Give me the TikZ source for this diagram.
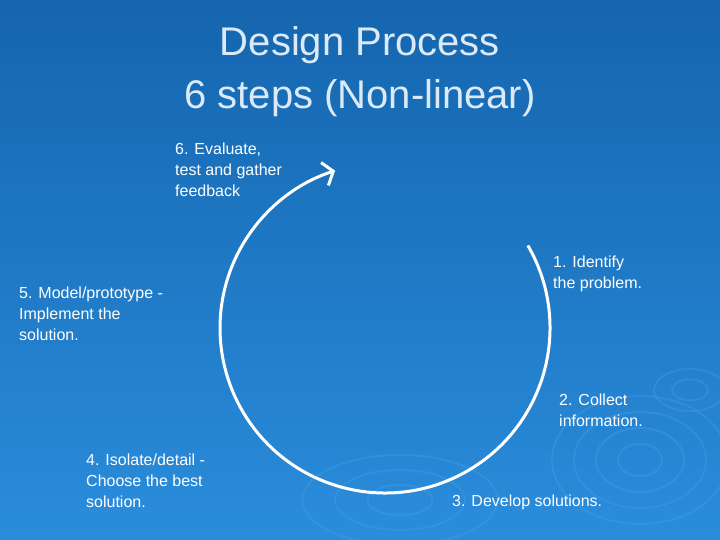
\documentclass[tikz,border=0pt]{standalone}
\usepackage{fontspec}
\setmainfont{Liberation Sans}
\usetikzlibrary{arrows.meta,calc}
\definecolor{bgtop}{HTML}{1565AE}
\definecolor{bgbot}{HTML}{2A8DDC}
\definecolor{ttl}{HTML}{DCEAF8}
\definecolor{rip}{HTML}{4BA3E8}
\begin{document}
\begin{tikzpicture}[x=1pt,y=1pt,
  lbl/.style={anchor=north west,inner sep=0pt,text=white,font=\fontsize{16}{21}\selectfont,align=left},
  ripple/.style={draw=rip,line width=2pt,opacity=0.3}]
\shade[top color=bgtop,bottom color=bgbot] (0,0) rectangle (720,540);
\useasboundingbox (0,0) rectangle (720,540);
% ripples
\foreach \r in {20,40,60,80}{\draw[ripple] (640,80) ellipse ({\r*1.1} and {\r*0.8});}
\foreach \r in {25,50,75}{\draw[ripple] (400,40) ellipse ({\r*1.3} and {\r*0.6});}
\foreach \r in {15,30}{\draw[ripple] (690,150) ellipse ({\r*1.2} and {\r*0.7});}
\node[text=ttl,font=\fontsize{40}{53}\selectfont,align=center] (title) at (360,468) {Design Process\\6 steps (Non-linear)};
\coordinate (c) at (385,212);
\coordinate (s) at ($(c)+(30:165)$);
\draw[white,line width=3pt,-{Straight Barb[length=9pt,width=24pt]}] (s) arc[start angle=30,end angle=-252.4,radius=165];
\node[lbl] (n6) at (175,397) {6. Evaluate,\\test and gather\\feedback};
\node[lbl] (n5) at (19,253) {5. Model/prototype -\\Implement the\\solution.};
\node[lbl] (n1) at (553,284) {1. Identify\\the problem.};
\node[lbl] (n2) at (559,146) {2. Collect\\information.};
\node[lbl] (n4) at (86,86) {4. Isolate/detail -\\Choose the best\\solution.};
\node[lbl] (n3) at (452,45) {3. Develop solutions.};
\end{tikzpicture}
\end{document}
